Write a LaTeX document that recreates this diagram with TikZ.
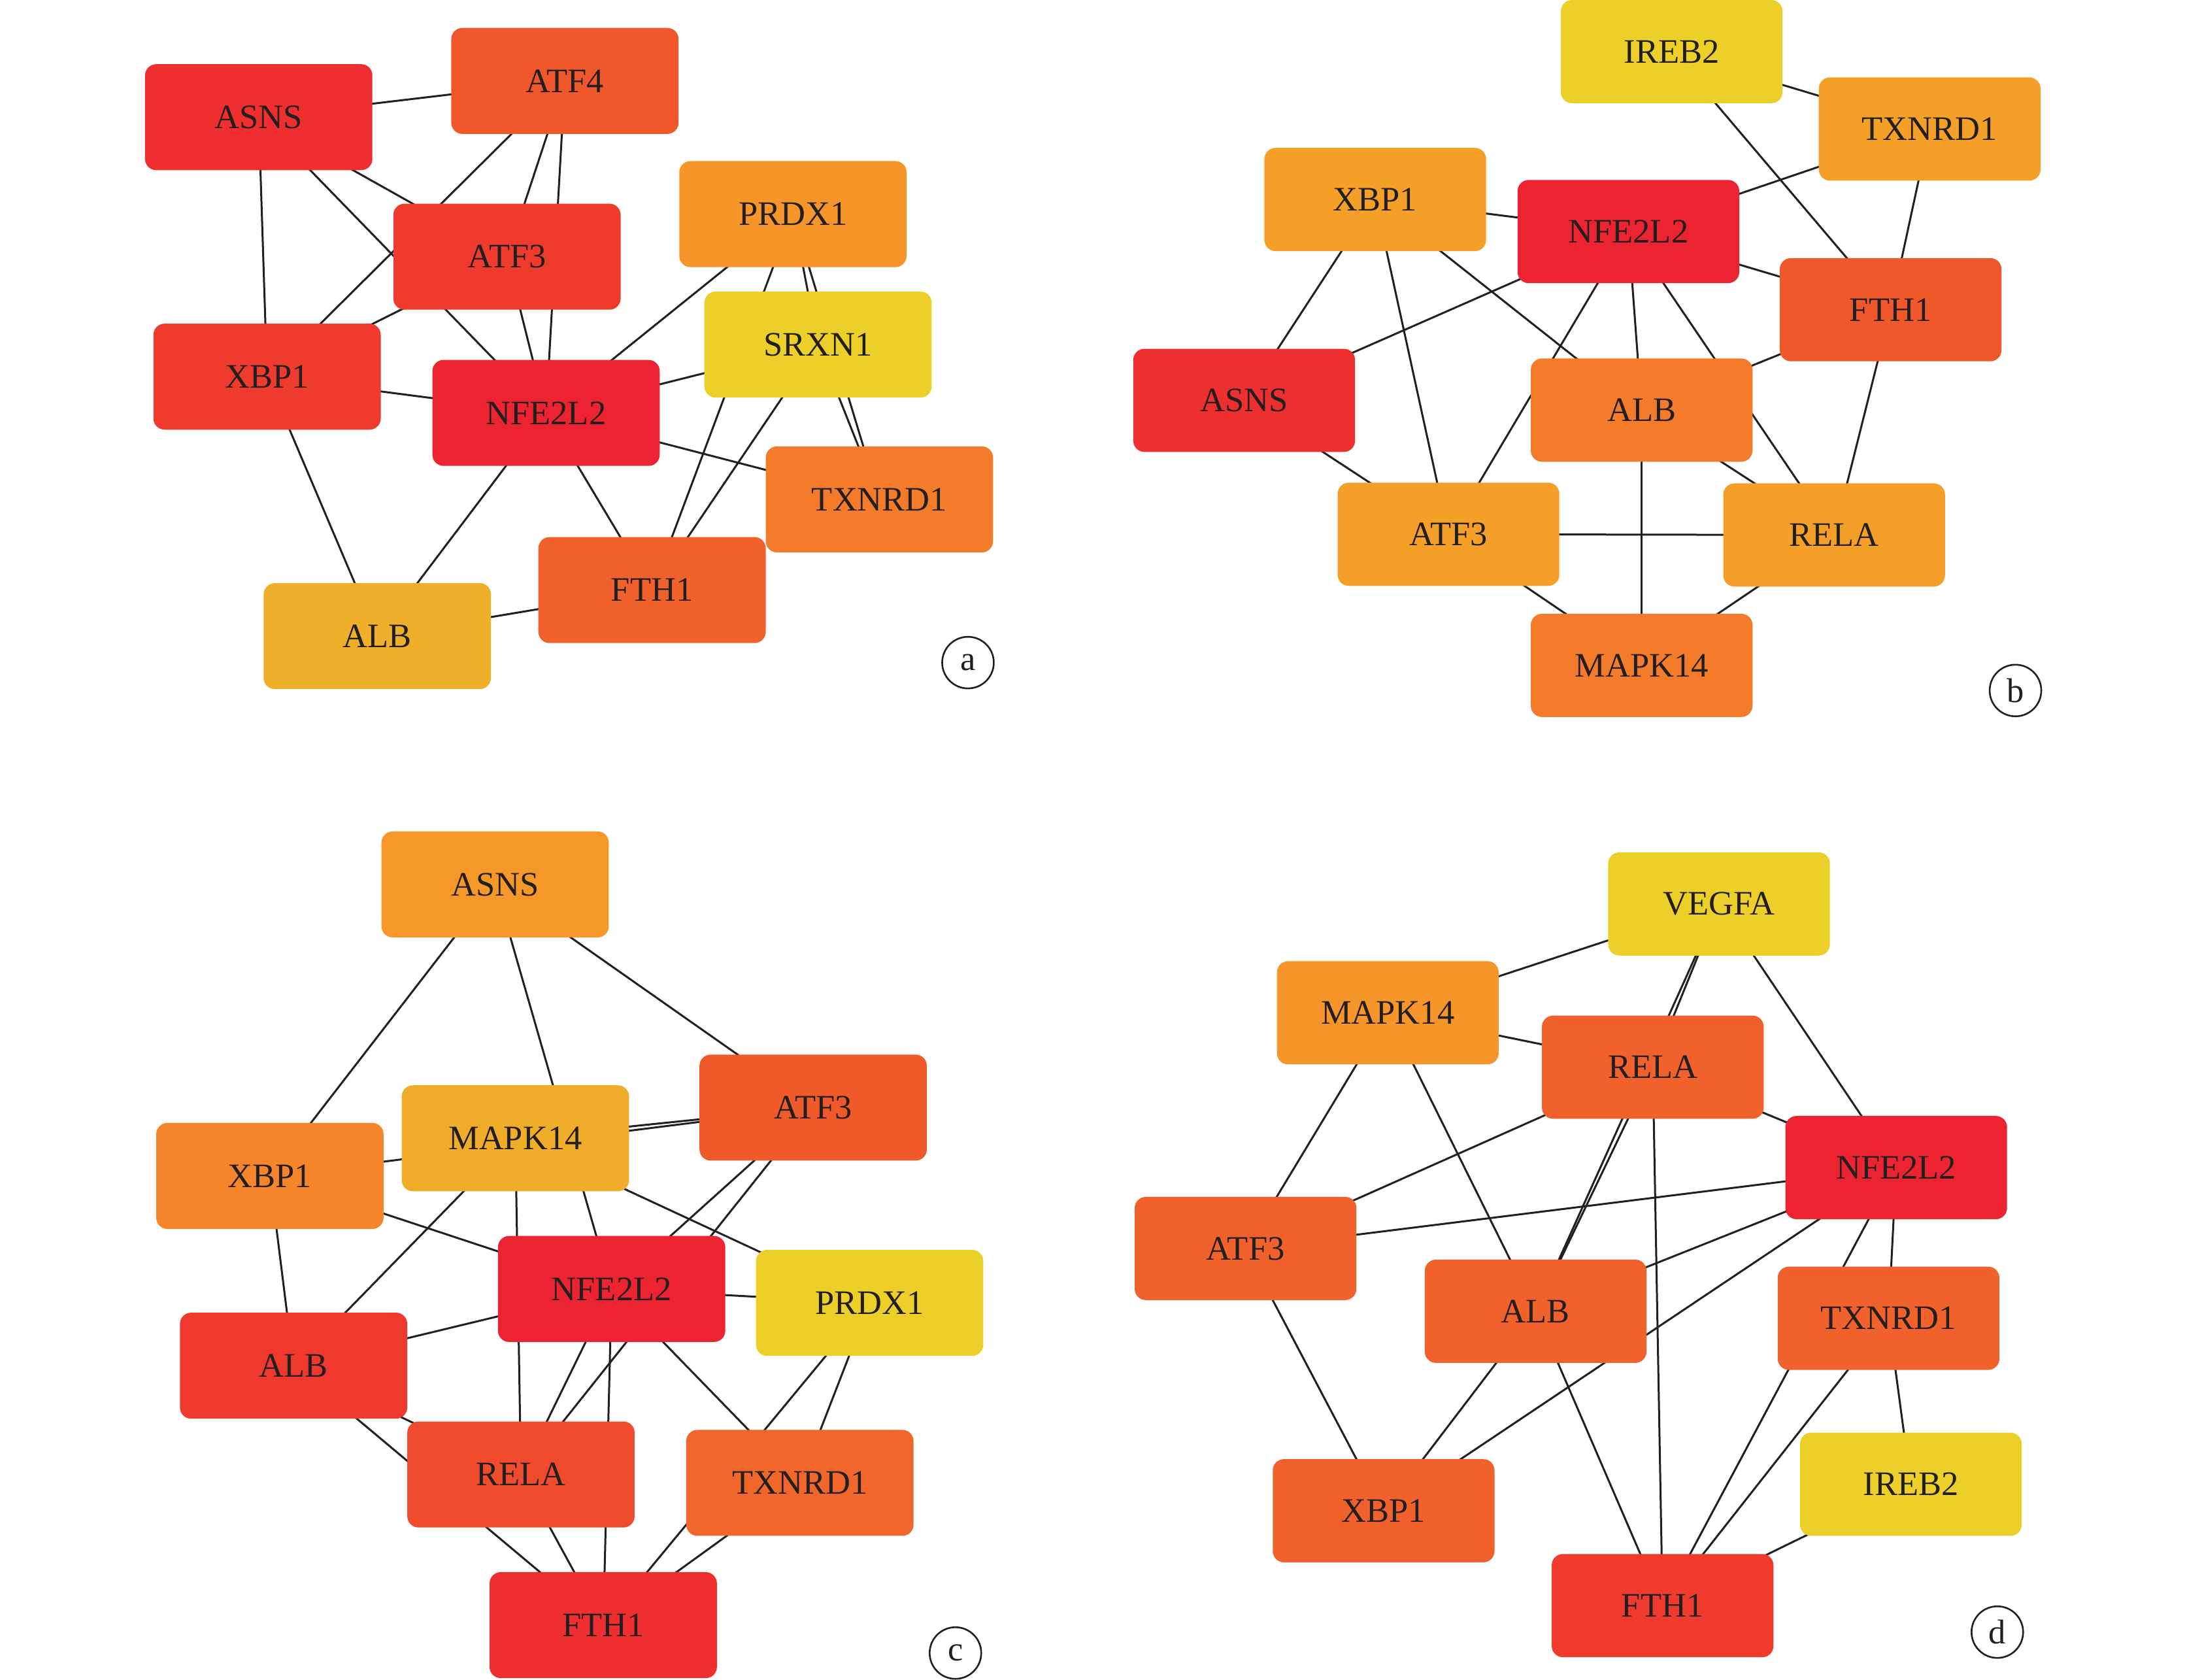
\documentclass[tikz,border=0pt]{standalone}
\usepackage{fontspec}
\setmainfont{Liberation Serif}
\usetikzlibrary{backgrounds}
\definecolor{txt}{HTML}{231F20}
\definecolor{cRed}{HTML}{EC2330}
\definecolor{cRedA}{HTML}{EE2E2F}
\definecolor{cRedB}{HTML}{EF3A2E}
\definecolor{cRedC}{HTML}{F04B2C}
\definecolor{cOrA}{HTML}{F05A2B}
\definecolor{cOrB}{HTML}{F0612B}
\definecolor{cOrC}{HTML}{F47B2A}
\definecolor{cOrD}{HTML}{F4852A}
\definecolor{cOrE}{HTML}{F6952A}
\definecolor{cOrF}{HTML}{F4A028}
\definecolor{cOrG}{HTML}{EFAF2A}
\definecolor{cYel}{HTML}{EDCF2A}
\begin{document}
\begin{tikzpicture}[x=0.02cm,y=-0.02cm,
  box/.style={rectangle, rounded corners=0.16cm, minimum width=3.26cm, minimum height=1.52cm,
    inner sep=0pt, text=txt, font=\fontsize{14}{16}\selectfont},
  sbox/.style={box, minimum width=3.18cm, minimum height=1.48cm},
  edge/.style={draw=txt, line width=0.8pt},
  tag/.style={circle, draw=txt, line width=0.7pt, minimum size=0.74cm, inner sep=0pt,
    text=txt, font=\fontsize{14}{16}\selectfont}]
\useasboundingbox (0,0) rectangle (1568,1204);
% ---------------- panel a ----------------
\node[box, fill=cRedA] (aASNS) at (185.5,84) {ASNS};
\node[box, fill=cOrA!90!cRedC] (aATF4) at (405,58) {ATF4};
\node[box, fill=cRedB] (aATF3) at (363.5,184) {ATF3};
\node[box, fill=cOrE] (aPRDX1) at (568.5,153.5) {PRDX1};
\node[box, fill=cYel] (aSRXN1) at (586.5,247) {SRXN1};
\node[box, fill=cRedB] (aXBP1) at (191.5,270) {XBP1};
\node[box, fill=cRed] (aNFE2L2) at (391.5,296) {NFE2L2};
\node[box, fill=cOrC] (aTXNRD1) at (630.5,358) {TXNRD1};
\node[box, fill=cOrB] (aFTH1) at (467.5,423) {FTH1};
\node[box, fill=cOrG] (aALB) at (270.5,456) {ALB};
\node[tag] (atag) at (694,475) {a};
\begin{pgfonlayer}{background}
\foreach \u/\v in {ASNS/ATF4, ASNS/ATF3, ASNS/NFE2L2, ASNS/XBP1, ATF4/ATF3, ATF4/NFE2L2,
  ATF4/XBP1, ATF3/XBP1, ATF3/NFE2L2, XBP1/NFE2L2, XBP1/ALB, NFE2L2/ALB, NFE2L2/FTH1,
  NFE2L2/PRDX1, NFE2L2/SRXN1, NFE2L2/TXNRD1, ALB/FTH1, PRDX1/FTH1, PRDX1/SRXN1,
  PRDX1/TXNRD1, SRXN1/TXNRD1, SRXN1/FTH1}
  \draw[edge] (a\u.center) -- (a\v.center);
\end{pgfonlayer}
% ---------------- panel b ----------------
\node[sbox, fill=cYel] (bIREB2) at (1198.5,37) {IREB2};
\node[sbox, fill=cOrF] (bTXNRD1) at (1383.5,92.5) {TXNRD1};
\node[sbox, fill=cOrF] (bXBP1) at (986,143) {XBP1};
\node[sbox, fill=cRed] (bNFE2L2) at (1167.5,166) {NFE2L2};
\node[sbox, fill=cOrA!90!cRedC] (bFTH1) at (1355.5,222) {FTH1};
\node[sbox, fill=cRedA!90!cRedB] (bASNS) at (892,287) {ASNS};
\node[sbox, fill=cOrC] (bALB) at (1177,294) {ALB};
\node[sbox, fill=cOrF] (bATF3) at (1038.5,383) {ATF3};
\node[sbox, fill=cOrF] (bRELA) at (1315,383.5) {RELA};
\node[sbox, fill=cOrC] (bMAPK14) at (1177,477) {MAPK14};
\node[tag] (btag) at (1445,495) {b};
\begin{pgfonlayer}{background}
\foreach \u/\v in {IREB2/TXNRD1, IREB2/FTH1, TXNRD1/NFE2L2, TXNRD1/FTH1, XBP1/NFE2L2,
  XBP1/ASNS, XBP1/ATF3, XBP1/ALB, NFE2L2/ASNS, NFE2L2/FTH1, NFE2L2/ATF3, NFE2L2/ALB,
  NFE2L2/RELA, FTH1/ALB, FTH1/RELA, ASNS/ATF3, ALB/MAPK14, ALB/RELA, ATF3/RELA,
  ATF3/MAPK14, RELA/MAPK14}
  \draw[edge] (b\u.center) -- (b\v.center);
\end{pgfonlayer}
% ---------------- panel c ----------------
\node[box, fill=cOrE!80!cOrF] (cASNS) at (355,634) {ASNS};
\node[box, fill=cOrA] (cATF3) at (583,794) {ATF3};
\node[box, fill=cOrG!90!cOrF] (cMAPK14) at (369.5,816) {MAPK14};
\node[box, fill=cOrD] (cXBP1) at (193.5,843) {XBP1};
\node[box, fill=cRed] (cNFE2L2) at (438.5,924) {NFE2L2};
\node[box, fill=cYel] (cPRDX1) at (623.5,934) {PRDX1};
\node[box, fill=cRedB!80!cRedA] (cALB) at (210.5,979) {ALB};
\node[box, fill=cRedC] (cRELA) at (373.5,1057) {RELA};
\node[box, fill=cOrB!80!cOrC] (cTXNRD1) at (573.5,1063) {TXNRD1};
\node[box, fill=cRedA] (cFTH1) at (432.5,1165) {FTH1};
\node[tag] (ctag) at (685,1185) {c};
\begin{pgfonlayer}{background}
\foreach \u/\v in {ASNS/XBP1, ASNS/NFE2L2, ASNS/ATF3, MAPK14/ATF3, XBP1/ATF3, XBP1/NFE2L2,
  XBP1/ALB, MAPK14/ALB, MAPK14/RELA, MAPK14/PRDX1, ATF3/NFE2L2, ATF3/RELA, NFE2L2/PRDX1,
  NFE2L2/ALB, NFE2L2/RELA, NFE2L2/FTH1, NFE2L2/TXNRD1, PRDX1/TXNRD1, PRDX1/FTH1,
  TXNRD1/FTH1, ALB/RELA, ALB/FTH1, RELA/FTH1}
  \draw[edge] (c\u.center) -- (c\v.center);
\end{pgfonlayer}
% ---------------- panel d ----------------
\node[sbox, fill=cYel] (dVEGFA) at (1232.5,648) {VEGFA};
\node[sbox, fill=cOrE] (dMAPK14) at (995,726) {MAPK14};
\node[sbox, fill=cOrB] (dRELA) at (1185,765) {RELA};
\node[sbox, fill=cRed] (dNFE2L2) at (1359.5,837) {NFE2L2};
\node[sbox, fill=cOrB] (dATF3) at (893,895) {ATF3};
\node[sbox, fill=cOrB] (dALB) at (1101,940) {ALB};
\node[sbox, fill=cOrB] (dTXNRD1) at (1354,945) {TXNRD1};
\node[sbox, fill=cYel] (dIREB2) at (1370,1064) {IREB2};
\node[sbox, fill=cOrB] (dXBP1) at (992,1083) {XBP1};
\node[sbox, fill=cRedB] (dFTH1) at (1192,1151) {FTH1};
\node[tag] (dtag) at (1432,1170) {d};
\begin{pgfonlayer}{background}
\foreach \u/\v in {VEGFA/MAPK14, VEGFA/RELA, VEGFA/ALB, RELA/ALB, VEGFA/NFE2L2, MAPK14/RELA,
  MAPK14/ATF3, MAPK14/ALB, RELA/ATF3, RELA/NFE2L2, RELA/FTH1, NFE2L2/ATF3, NFE2L2/ALB,
  NFE2L2/XBP1, NFE2L2/TXNRD1, NFE2L2/FTH1, TXNRD1/FTH1, TXNRD1/IREB2, IREB2/FTH1,
  ATF3/XBP1, ALB/XBP1, ALB/FTH1}
  \draw[edge] (d\u.center) -- (d\v.center);
\end{pgfonlayer}
\end{tikzpicture}
\end{document}
